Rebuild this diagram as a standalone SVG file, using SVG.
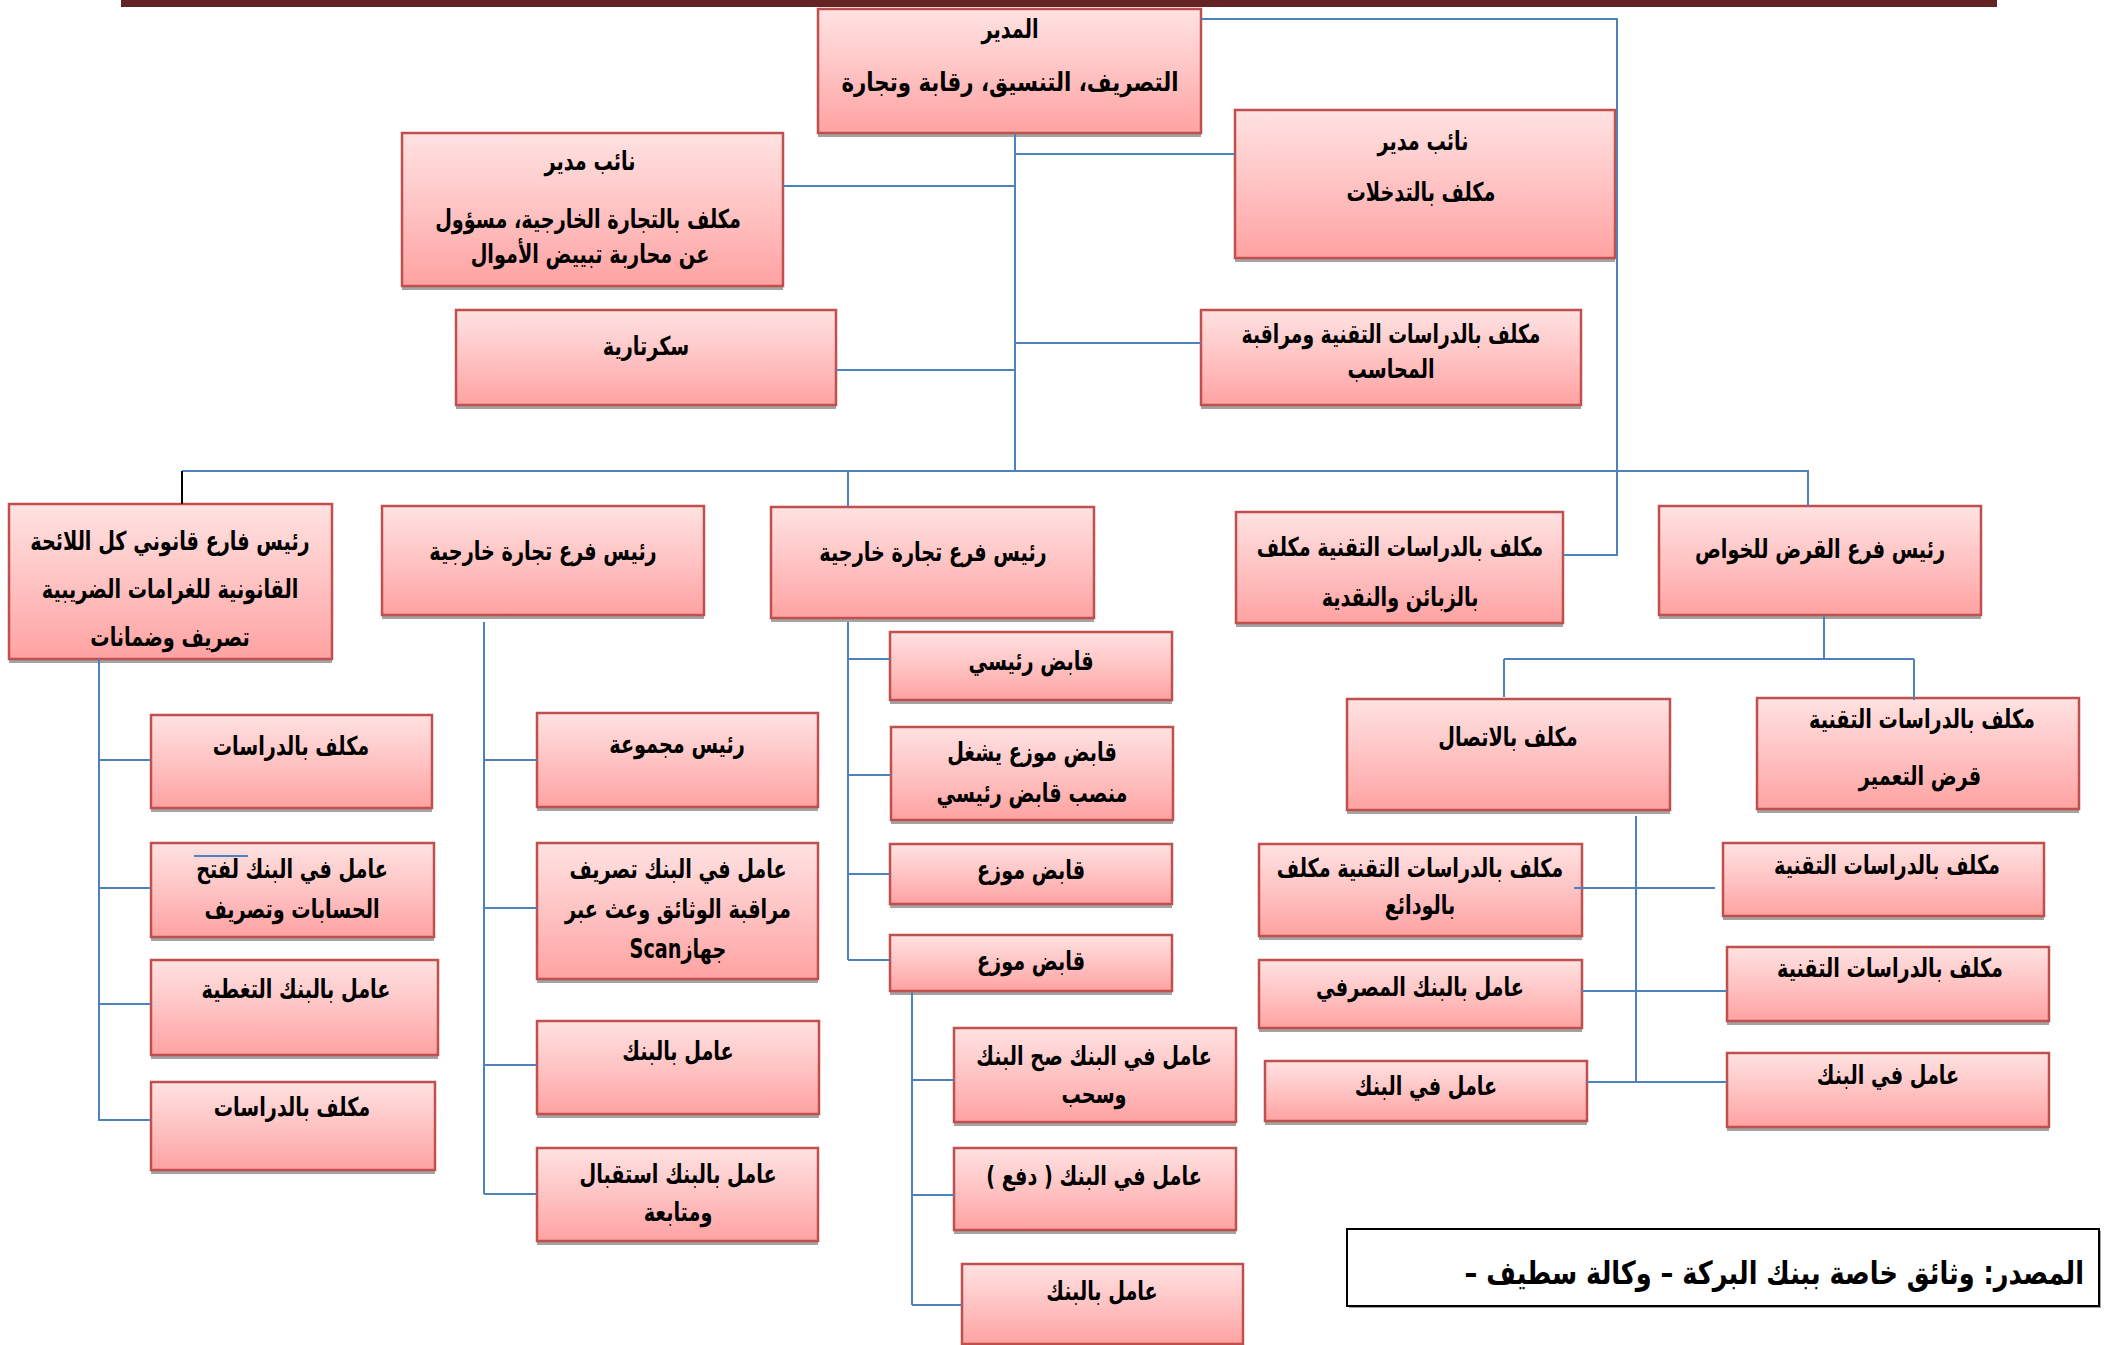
<svg xmlns="http://www.w3.org/2000/svg" width="2105" height="1345" viewBox="0 0 2105 1345">
<defs>
<linearGradient id="g" x1="0" y1="0" x2="0" y2="1">
<stop offset="0" stop-color="#FFE2E2"/>
<stop offset="0.5" stop-color="#FFC3C3"/>
<stop offset="1" stop-color="#FFA2A2"/>
</linearGradient>
<style>
.b{fill:url(#g);stroke:#C0504D;stroke-width:2.5}
.s{fill:#A3A3A3}
.t{font-family:'DejaVu Sans',sans-serif;font-weight:bold;font-size:26px;text-anchor:middle;direction:rtl;fill:#000}
.c{stroke:#4F81BD;stroke-width:2;fill:none}
</style>
</defs>
<rect width="2105" height="1345" fill="#fff"/>
<rect x="121" y="0" width="1876" height="7" fill="#632423"/>

<g id="director">
<rect class="s" x="818" y="13" width="383" height="124"/>
<rect class="b" x="818" y="9" width="383" height="124"/>
<text class="t" transform="translate(1010 38) scale(0.74 1)">المدير</text>
<text class="t" transform="translate(1010 91) scale(0.82 1)">التصريف، التنسيق، رقابة وتجارة</text>
</g>
<g id="deputy-trade">
<rect class="s" x="402" y="137" width="381" height="153"/>
<rect class="b" x="402" y="133" width="381" height="153"/>
<text class="t" transform="translate(590 170) scale(0.74 1)">نائب مدير</text>
<text class="t" transform="translate(588 228) scale(0.74 1)">مكلف بالتجارة الخارجية، مسؤول</text>
<text class="t" transform="translate(590 263) scale(0.74 1)">عن محاربة تبييض الأموال</text>
</g>
<g id="secretariat">
<rect class="s" x="456" y="314" width="380" height="95"/>
<rect class="b" x="456" y="310" width="380" height="95"/>
<text class="t" transform="translate(646 355) scale(0.74 1)">سكرتارية</text>
</g>
<g id="deputy-interventions">
<rect class="s" x="1235" y="114" width="380" height="148"/>
<rect class="b" x="1235" y="110" width="380" height="148"/>
<text class="t" transform="translate(1423 150) scale(0.74 1)">نائب مدير</text>
<text class="t" transform="translate(1421 201) scale(0.74 1)">مكلف بالتدخلات</text>
</g>
<g id="tech-audit">
<rect class="s" x="1201" y="314" width="380" height="95"/>
<rect class="b" x="1201" y="310" width="380" height="95"/>
<text class="t" transform="translate(1391 343) scale(0.72 1)">مكلف بالدراسات التقنية ومراقبة</text>
<text class="t" transform="translate(1391 378) scale(0.74 1)">المحاسب</text>
</g>
<g id="legal">
<rect class="s" x="9" y="508" width="323" height="155"/>
<rect class="b" x="9" y="504" width="323" height="155"/>
<text class="t" transform="translate(170 550) scale(0.74 1)">رئيس فارع قانوني كل اللائحة</text>
<text class="t" transform="translate(170 598) scale(0.74 1)">القانونية للغرامات الضريبية</text>
<text class="t" transform="translate(170 646) scale(0.74 1)">تصريف وضمانات</text>
</g>
<g id="foreign-trade-1">
<rect class="s" x="382" y="510" width="322" height="109"/>
<rect class="b" x="382" y="506" width="322" height="109"/>
<text class="t" transform="translate(543 560) scale(0.74 1)">رئيس فرع تجارة خارجية</text>
</g>
<g id="foreign-trade-2">
<rect class="s" x="771" y="511" width="323" height="111"/>
<rect class="b" x="771" y="507" width="323" height="111"/>
<text class="t" transform="translate(933 561) scale(0.74 1)">رئيس فرع تجارة خارجية</text>
</g>
<g id="tech-clients">
<rect class="s" x="1236" y="516" width="327" height="111"/>
<rect class="b" x="1236" y="512" width="327" height="111"/>
<text class="t" transform="translate(1400 556) scale(0.74 1)">مكلف بالدراسات التقنية مكلف</text>
<text class="t" transform="translate(1400 606) scale(0.74 1)">بالزبائن والنقدية</text>
</g>
<g id="loans">
<rect class="s" x="1659" y="510" width="322" height="109"/>
<rect class="b" x="1659" y="506" width="322" height="109"/>
<text class="t" transform="translate(1820 558) scale(0.74 1)">رئيس فرع القرض للخواص</text>
</g>

<g id="legal-1">
<rect class="s" x="151" y="719" width="281" height="93"/>
<rect class="b" x="151" y="715" width="281" height="93"/>
<text class="t" transform="translate(291 755) scale(0.74 1)">مكلف بالدراسات</text>
</g>
<g id="legal-2">
<rect class="s" x="151" y="847" width="283" height="94"/>
<rect class="b" x="151" y="843" width="283" height="94"/>
<text class="t" transform="translate(292 878) scale(0.74 1)">عامل في البنك لفتح</text>
<text class="t" transform="translate(292 918) scale(0.74 1)">الحسابات وتصريف</text>
</g>
<g id="legal-3">
<rect class="s" x="151" y="964" width="287" height="95"/>
<rect class="b" x="151" y="960" width="287" height="95"/>
<text class="t" transform="translate(296 998) scale(0.74 1)">عامل بالبنك التغطية</text>
</g>
<g id="legal-4">
<rect class="s" x="151" y="1086" width="284" height="88"/>
<rect class="b" x="151" y="1082" width="284" height="88"/>
<text class="t" transform="translate(292 1116) scale(0.74 1)">مكلف بالدراسات</text>
</g>

<g id="ft1-1">
<rect class="s" x="537" y="717" width="281" height="94"/>
<rect class="b" x="537" y="713" width="281" height="94"/>
<text class="t" transform="translate(677 753) scale(0.74 1)">رئيس مجموعة</text>
</g>
<g id="ft1-2">
<rect class="s" x="537" y="847" width="281" height="136"/>
<rect class="b" x="537" y="843" width="281" height="136"/>
<text class="t" transform="translate(678 878) scale(0.74 1)">عامل في البنك تصريف</text>
<text class="t" transform="translate(678 918) scale(0.74 1)">مراقبة الوثائق وعث عبر</text>
<text class="t" transform="translate(678 958) scale(0.74 1)">جهازScan</text>
</g>
<g id="ft1-3">
<rect class="s" x="537" y="1025" width="282" height="93"/>
<rect class="b" x="537" y="1021" width="282" height="93"/>
<text class="t" transform="translate(678 1060) scale(0.74 1)">عامل بالبنك</text>
</g>
<g id="ft1-4">
<rect class="s" x="537" y="1152" width="281" height="93"/>
<rect class="b" x="537" y="1148" width="281" height="93"/>
<text class="t" transform="translate(678 1183) scale(0.74 1)">عامل بالبنك استقبال</text>
<text class="t" transform="translate(678 1221) scale(0.74 1)">ومتابعة</text>
</g>

<g id="ft2-1">
<rect class="s" x="890" y="636" width="282" height="68"/>
<rect class="b" x="890" y="632" width="282" height="68"/>
<text class="t" transform="translate(1031 670) scale(0.74 1)">قابض رئيسي</text>
</g>
<g id="ft2-2">
<rect class="s" x="891" y="731" width="282" height="93"/>
<rect class="b" x="891" y="727" width="282" height="93"/>
<text class="t" transform="translate(1032 761) scale(0.74 1)">قابض موزع يشغل</text>
<text class="t" transform="translate(1032 802) scale(0.74 1)">منصب قابض رئيسي</text>
</g>
<g id="ft2-3">
<rect class="s" x="890" y="848" width="282" height="60"/>
<rect class="b" x="890" y="844" width="282" height="60"/>
<text class="t" transform="translate(1031 879) scale(0.74 1)">قابض موزع</text>
</g>
<g id="ft2-4">
<rect class="s" x="890" y="939" width="282" height="56"/>
<rect class="b" x="890" y="935" width="282" height="56"/>
<text class="t" transform="translate(1031 970) scale(0.74 1)">قابض موزع</text>
</g>
<g id="ft2-4-1">
<rect class="s" x="954" y="1032" width="282" height="94"/>
<rect class="b" x="954" y="1028" width="282" height="94"/>
<text class="t" transform="translate(1094 1065) scale(0.74 1)">عامل في البنك صح البنك</text>
<text class="t" transform="translate(1094 1103) scale(0.74 1)">وسحب</text>
</g>
<g id="ft2-4-2">
<rect class="s" x="954" y="1152" width="282" height="82"/>
<rect class="b" x="954" y="1148" width="282" height="82"/>
<text class="t" transform="translate(1094 1185) scale(0.74 1)">عامل في البنك ( دفع )</text>
</g>
<g id="ft2-4-3">
<rect class="b" x="962" y="1264" width="281" height="80"/>
<text class="t" transform="translate(1102 1300) scale(0.74 1)">عامل بالبنك</text>
</g>

<g id="contact">
<rect class="s" x="1347" y="703" width="323" height="111"/>
<rect class="b" x="1347" y="699" width="323" height="111"/>
<text class="t" transform="translate(1508 746) scale(0.74 1)">مكلف بالاتصال</text>
</g>
<g id="reconstruction">
<rect class="s" x="1757" y="702" width="322" height="111"/>
<rect class="b" x="1757" y="698" width="322" height="111"/>
<text class="t" transform="translate(1922 728) scale(0.74 1)">مكلف بالدراسات التقنية</text>
<text class="t" transform="translate(1920 785) scale(0.74 1)">قرض التعمير</text>
</g>
<g id="deposits">
<rect class="s" x="1259" y="848" width="323" height="92"/>
<rect class="b" x="1259" y="844" width="323" height="92"/>
<text class="t" transform="translate(1420 877) scale(0.74 1)">مكلف بالدراسات التقنية مكلف</text>
<text class="t" transform="translate(1420 914) scale(0.74 1)">بالودائع</text>
</g>
<g id="banking">
<rect class="s" x="1259" y="964" width="323" height="68"/>
<rect class="b" x="1259" y="960" width="323" height="68"/>
<text class="t" transform="translate(1420 996) scale(0.74 1)">عامل بالبنك المصرفي</text>
</g>
<g id="bank-left">
<rect class="s" x="1265" y="1065" width="322" height="60"/>
<rect class="b" x="1265" y="1061" width="322" height="60"/>
<text class="t" transform="translate(1426 1095) scale(0.74 1)">عامل في البنك</text>
</g>
<g id="tech-right-1">
<rect class="s" x="1723" y="847" width="321" height="73"/>
<rect class="b" x="1723" y="843" width="321" height="73"/>
<text class="t" transform="translate(1887 874) scale(0.74 1)">مكلف بالدراسات التقنية</text>
</g>
<g id="tech-right-2">
<rect class="s" x="1727" y="951" width="322" height="74"/>
<rect class="b" x="1727" y="947" width="322" height="74"/>
<text class="t" transform="translate(1890 977) scale(0.74 1)">مكلف بالدراسات التقنية</text>
</g>
<g id="bank-right">
<rect class="s" x="1727" y="1057" width="322" height="74"/>
<rect class="b" x="1727" y="1053" width="322" height="74"/>
<text class="t" transform="translate(1888 1084) scale(0.74 1)">عامل في البنك</text>
</g>

<g id="source">
<rect x="1349" y="1231" width="752" height="77" fill="#A3A3A3"/>
<rect x="1347" y="1229" width="752" height="77" fill="#fff" stroke="#000" stroke-width="2"/>
<text transform="translate(2084 1284) scale(0.8 1)" style="font-family:'DejaVu Sans',sans-serif;font-weight:bold;font-size:32px;text-anchor:start;direction:rtl">المصدر: وثائق خاصة ببنك البركة – وكالة سطيف –</text>
</g>

<g id="connectors">
<path class="c" d="M1015 133V471M783 186H1015M1015 154H1235M836 370H1015M1015 343H1201"/>
<path class="c" d="M1201 19H1617V555H1563"/>
<path class="c" d="M182 471H1808V506M848 471V507"/>
<path d="M182 471V504" stroke="#000" stroke-width="2" fill="none"/>
<path class="c" d="M99 659V1121M99 760H151M99 888H151M99 1004H151M99 1120H151"/>
<path class="c" d="M484 622V1194M484 760H537M484 908H537M484 1065H537M484 1194H537"/>
<path class="c" d="M848 622V960M848 659H890M848 775H891M848 874H890M848 960H890"/>
<path class="c" d="M912 992V1305M912 1080H954M912 1195H954M912 1305H962"/>
<path class="c" d="M1824 615V659M1504 659H1914M1504 659V697M1914 659V700"/>
<path class="c" d="M1636 816V1082M1574 888H1715M1582 991H1727M1587 1082H1727"/>
<path class="c" d="M194 856H248"/>
</g>
</svg>
